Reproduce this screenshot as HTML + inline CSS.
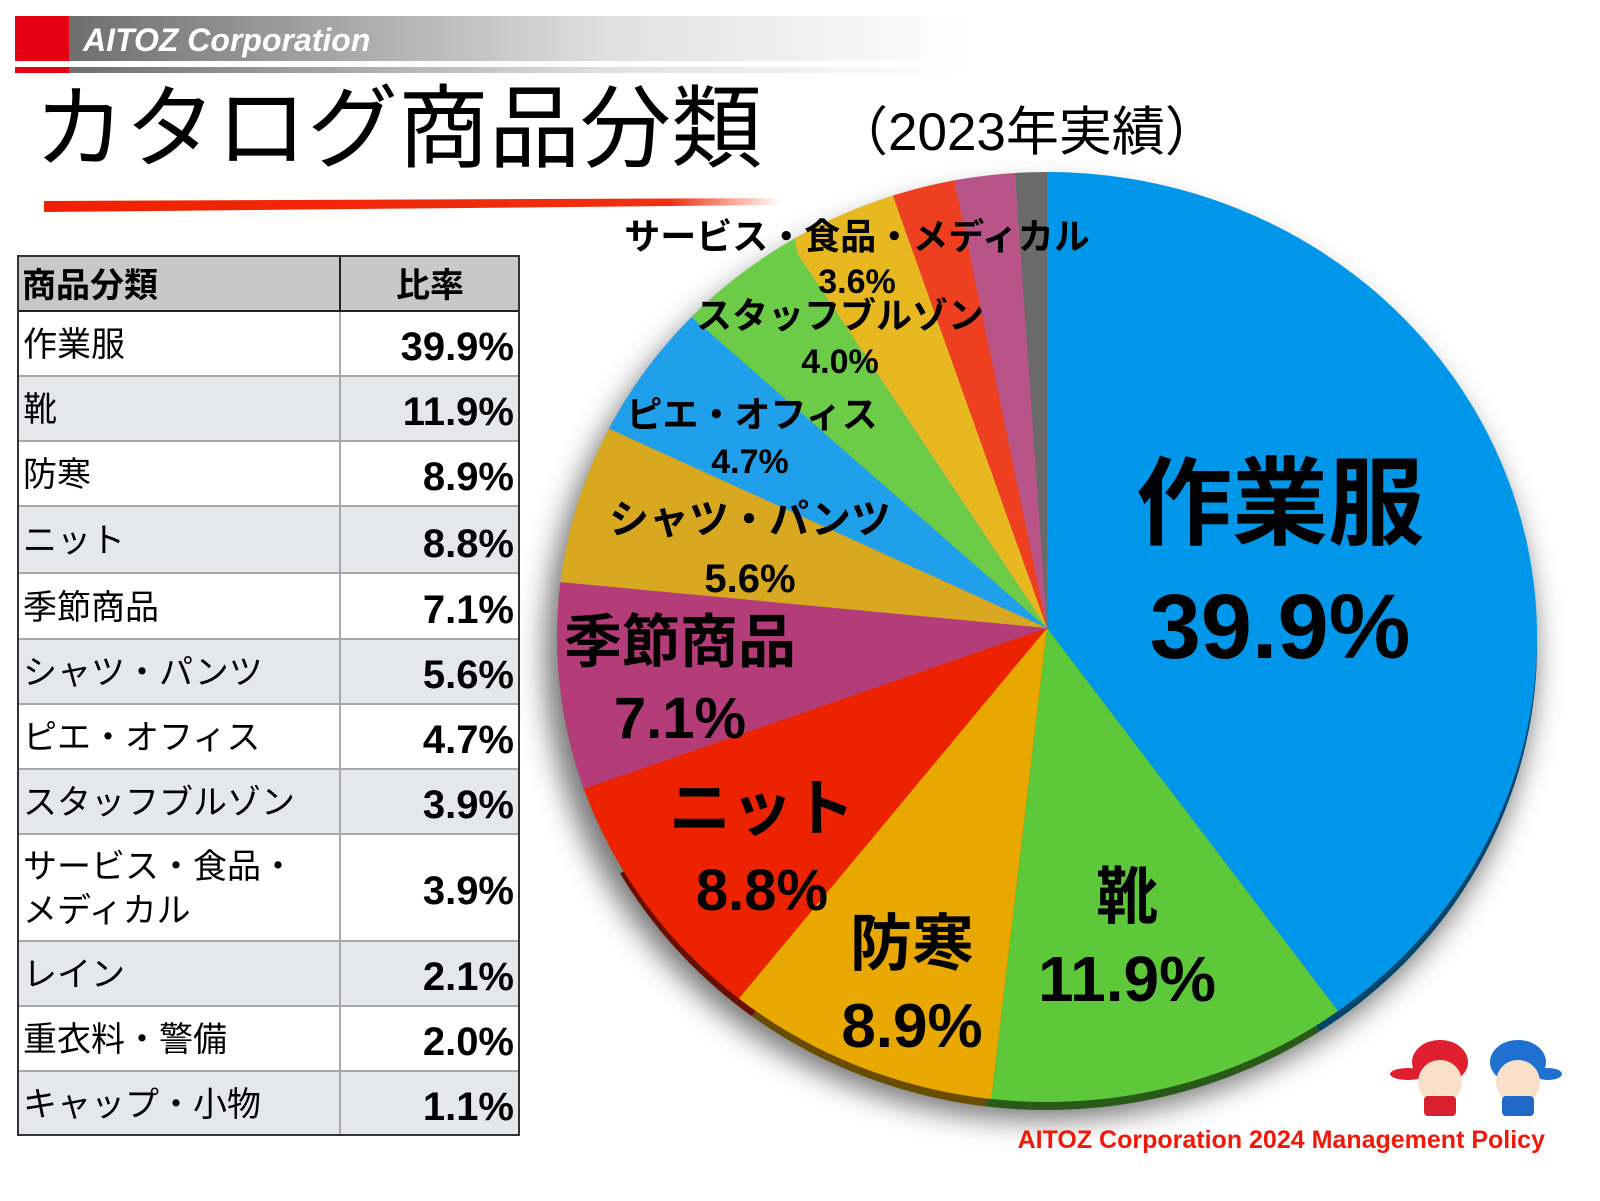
<!DOCTYPE html>
<html><head><meta charset="utf-8"><style>
html,body{margin:0;padding:0;background:#fff;width:1600px;height:1201px;overflow:hidden;}
svg{display:block;position:absolute;left:0;top:0;overflow:hidden;font-family:"Liberation Sans","Noto Sans CJK JP",sans-serif;}
</style></head><body>
<svg width="1600" height="1201" viewBox="0 0 1600 1201" xmlns="http://www.w3.org/2000/svg">
<defs>
<linearGradient id="hg" x1="0" x2="1"><stop offset="0" stop-color="#6e6e6e"/><stop offset="0.6" stop-color="#e0e0e0"/><stop offset="1" stop-color="#fff"/></linearGradient>
<linearGradient id="rg" x1="0" x2="1"><stop offset="0" stop-color="#f02000"/><stop offset="0.85" stop-color="#f03010"/><stop offset="1" stop-color="#fff"/></linearGradient>
<clipPath id="ec"><ellipse cx="1047" cy="637" rx="490" ry="465"/></clipPath>
<clipPath id="ec2"><ellipse cx="1047" cy="645" rx="490" ry="465"/></clipPath>
<filter id="sh" x="-5%" y="-5%" width="110%" height="110%"><feGaussianBlur stdDeviation="14"/></filter>
</defs>
<rect x="15" y="16" width="54" height="45" fill="#e60012"/>
<rect x="69" y="16" width="900" height="45" fill="url(#hg)"/>
<rect x="15" y="67" width="54" height="6" fill="#e60012"/>
<rect x="69" y="67" width="900" height="6" fill="url(#hg)"/>
<text x="83" y="51" font-size="32" font-style="italic" font-weight="bold" fill="#fff">AITOZ Corporation</text>
<text x="34" y="160" font-size="91" fill="#000">カタログ商品分類</text>
<text x="835" y="150" font-size="53" fill="#000">（2023年実績）</text>
<polygon points="44,201 780,198 780,205 44,212" fill="url(#rg)"/>

<ellipse cx="1040" cy="655" rx="495" ry="465" fill="#555" filter="url(#sh)" opacity="0.8"/>
<g clip-path="url(#ec2)" style="filter:brightness(0.45)">
<polygon points="1047,628 1047,100 1700,100 1700,1150 1400,1150" fill="#0096ea"/>
<polygon points="1047,628 1400,1150 980,1150" fill="#5cc83a"/>
<polygon points="1047,628 980,1150 650,1150" fill="#e8a800"/>
<polygon points="1047,628 650,1150 400,1000" fill="#ec2200"/>
</g>
<g clip-path="url(#ec)">
<polygon points="1047,628 1047,100 1700,100 1700,1150 1400,1150 1345,1020" fill="#0096ea"/>
<polygon points="1047,628 1345,1020 1400,1150 980,1150 990,1110" fill="#5cc83a"/>
<polygon points="1047,628 990,1110 980,1150 650,1150 735,1003" fill="#e8a800"/>
<polygon points="1047,628 735,1003 650,1150 400,1150 400,830 580,790" fill="#ec2200"/>
<polygon points="1047,628 580,790 400,830 400,570 560,582" fill="#b43c78"/>
<polygon points="1047,628 560,582 400,570 400,350 612,430" fill="#d8a820"/>
<polygon points="1047,628 612,430 400,350 500,150 710,333" fill="#20a0ea"/>
<polygon points="1047,628 710,333 500,150 780,100 797,253" fill="#6ccc48"/>
<polygon points="1047,628 797,253 780,100 880,100 893,196" fill="#e8b820"/>
<polygon points="1047,628 893,196 880,100 950,100 955,183" fill="#ee4020"/>
<polygon points="1047,628 955,183 950,100 1012,100 1015,174" fill="#b85488"/>
<polygon points="1047,628 1015,174 1012,100 1047,100" fill="#6a6a6a"/>
</g>

<g font-weight="bold" fill="#000" text-anchor="middle">
<text x="1280" y="537" font-size="96">作業服</text>
<text x="1280" y="658" font-size="92">39.9%</text>
<text x="1127" y="918" font-size="62">靴</text>
<text x="1127" y="1001" font-size="64">11.9%</text>
<text x="912" y="965" font-size="62">防寒</text>
<text x="912" y="1047" font-size="62">8.9%</text>
<text x="762" y="830" font-size="62">ニット</text>
<text x="762" y="910" font-size="58">8.8%</text>
<text x="680" y="662" font-size="58">季節商品</text>
<text x="680" y="738" font-size="58">7.1%</text>
<text x="750" y="533" font-size="40">シャツ・パンツ</text>
<text x="750" y="592" font-size="40">5.6%</text>
<text x="752" y="427" font-size="36">ピエ・オフィス</text>
<text x="750" y="473" font-size="34">4.7%</text>
<text x="840" y="328" font-size="36">スタッフブルゾン</text>
<text x="840" y="373" font-size="34">4.0%</text>
<text x="857" y="249" font-size="36">サービス・食品・メディカル</text>
<text x="857" y="293" font-size="34">3.6%</text>
</g>

<g>
<rect x="18" y="256" width="501" height="55" fill="#c8c8c8"/>
<rect x="18" y="311" width="501" height="65" fill="#fff"/>
<rect x="18" y="376" width="501" height="65" fill="#e6e7ea"/>
<rect x="18" y="441" width="501" height="65" fill="#fff"/>
<rect x="18" y="506" width="501" height="67" fill="#e6e7ea"/>
<rect x="18" y="573" width="501" height="66" fill="#fff"/>
<rect x="18" y="639" width="501" height="65" fill="#e6e7ea"/>
<rect x="18" y="704" width="501" height="65" fill="#fff"/>
<rect x="18" y="769" width="501" height="65" fill="#e6e7ea"/>
<rect x="18" y="834" width="501" height="107" fill="#fff"/>
<rect x="18" y="941" width="501" height="65" fill="#e6e7ea"/>
<rect x="18" y="1006" width="501" height="65" fill="#fff"/>
<rect x="18" y="1071" width="501" height="64" fill="#e6e7ea"/>
<g stroke="#a8a8a8" stroke-width="2">
<line x1="18" y1="376" x2="519" y2="376"/><line x1="18" y1="441" x2="519" y2="441"/>
<line x1="18" y1="506" x2="519" y2="506"/><line x1="18" y1="573" x2="519" y2="573"/>
<line x1="18" y1="639" x2="519" y2="639"/><line x1="18" y1="704" x2="519" y2="704"/>
<line x1="18" y1="769" x2="519" y2="769"/><line x1="18" y1="834" x2="519" y2="834"/>
<line x1="18" y1="941" x2="519" y2="941"/><line x1="18" y1="1006" x2="519" y2="1006"/>
<line x1="18" y1="1071" x2="519" y2="1071"/>
<line x1="340" y1="311" x2="340" y2="1135"/>
</g>
<line x1="18" y1="311" x2="519" y2="311" stroke="#222" stroke-width="2"/>
<line x1="340" y1="256" x2="340" y2="311" stroke="#222" stroke-width="2"/>
<rect x="18" y="256" width="501" height="879" fill="none" stroke="#333" stroke-width="2"/>
<g font-size="34" fill="#000">
<text x="22" y="297" font-weight="bold">商品分類</text>
<text x="430" y="297" font-weight="bold" text-anchor="middle">比率</text>
<text x="23" y="356">作業服</text>
<text x="23" y="421">靴</text>
<text x="23" y="486">防寒</text>
<text x="23" y="552">ニット</text>
<text x="23" y="619">季節商品</text>
<text x="23" y="684">シャツ・パンツ</text>
<text x="23" y="749">ピエ・オフィス</text>
<text x="23" y="814">スタッフブルゾン</text>
<text x="23" y="878">サービス・食品・</text>
<text x="23" y="922">メディカル</text>
<text x="23" y="986">レイン</text>
<text x="23" y="1051">重衣料・警備</text>
<text x="23" y="1116">キャップ・小物</text>
</g>
<g font-size="40" font-weight="bold" fill="#000" text-anchor="end">
<text x="514" y="360">39.9%</text>
<text x="514" y="425">11.9%</text>
<text x="514" y="490">8.9%</text>
<text x="514" y="557">8.8%</text>
<text x="514" y="623">7.1%</text>
<text x="514" y="688">5.6%</text>
<text x="514" y="753">4.7%</text>
<text x="514" y="818">3.9%</text>
<text x="514" y="904">3.9%</text>
<text x="514" y="990">2.1%</text>
<text x="514" y="1055">2.0%</text>
<text x="514" y="1120">1.1%</text>
</g>
</g>

<g>
<ellipse cx="1440" cy="1062" rx="28" ry="22" fill="#e02030"/>
<ellipse cx="1408" cy="1074" rx="18" ry="6" fill="#e02030"/>
<circle cx="1440" cy="1082" r="22" fill="#f8e0c8"/>
<rect x="1424" y="1096" width="32" height="20" rx="4" fill="#d82030"/>
<ellipse cx="1518" cy="1062" rx="28" ry="22" fill="#2070d0"/>
<ellipse cx="1548" cy="1074" rx="14" ry="6" fill="#2070d0"/>
<circle cx="1518" cy="1082" r="22" fill="#f8e0c8"/>
<rect x="1502" y="1096" width="32" height="20" rx="4" fill="#2068c8"/>
</g>
<text x="1545" y="1148" font-size="25" font-weight="bold" fill="#f01808" text-anchor="end">AITOZ Corporation 2024 Management Policy</text>
</svg>
</body></html>
